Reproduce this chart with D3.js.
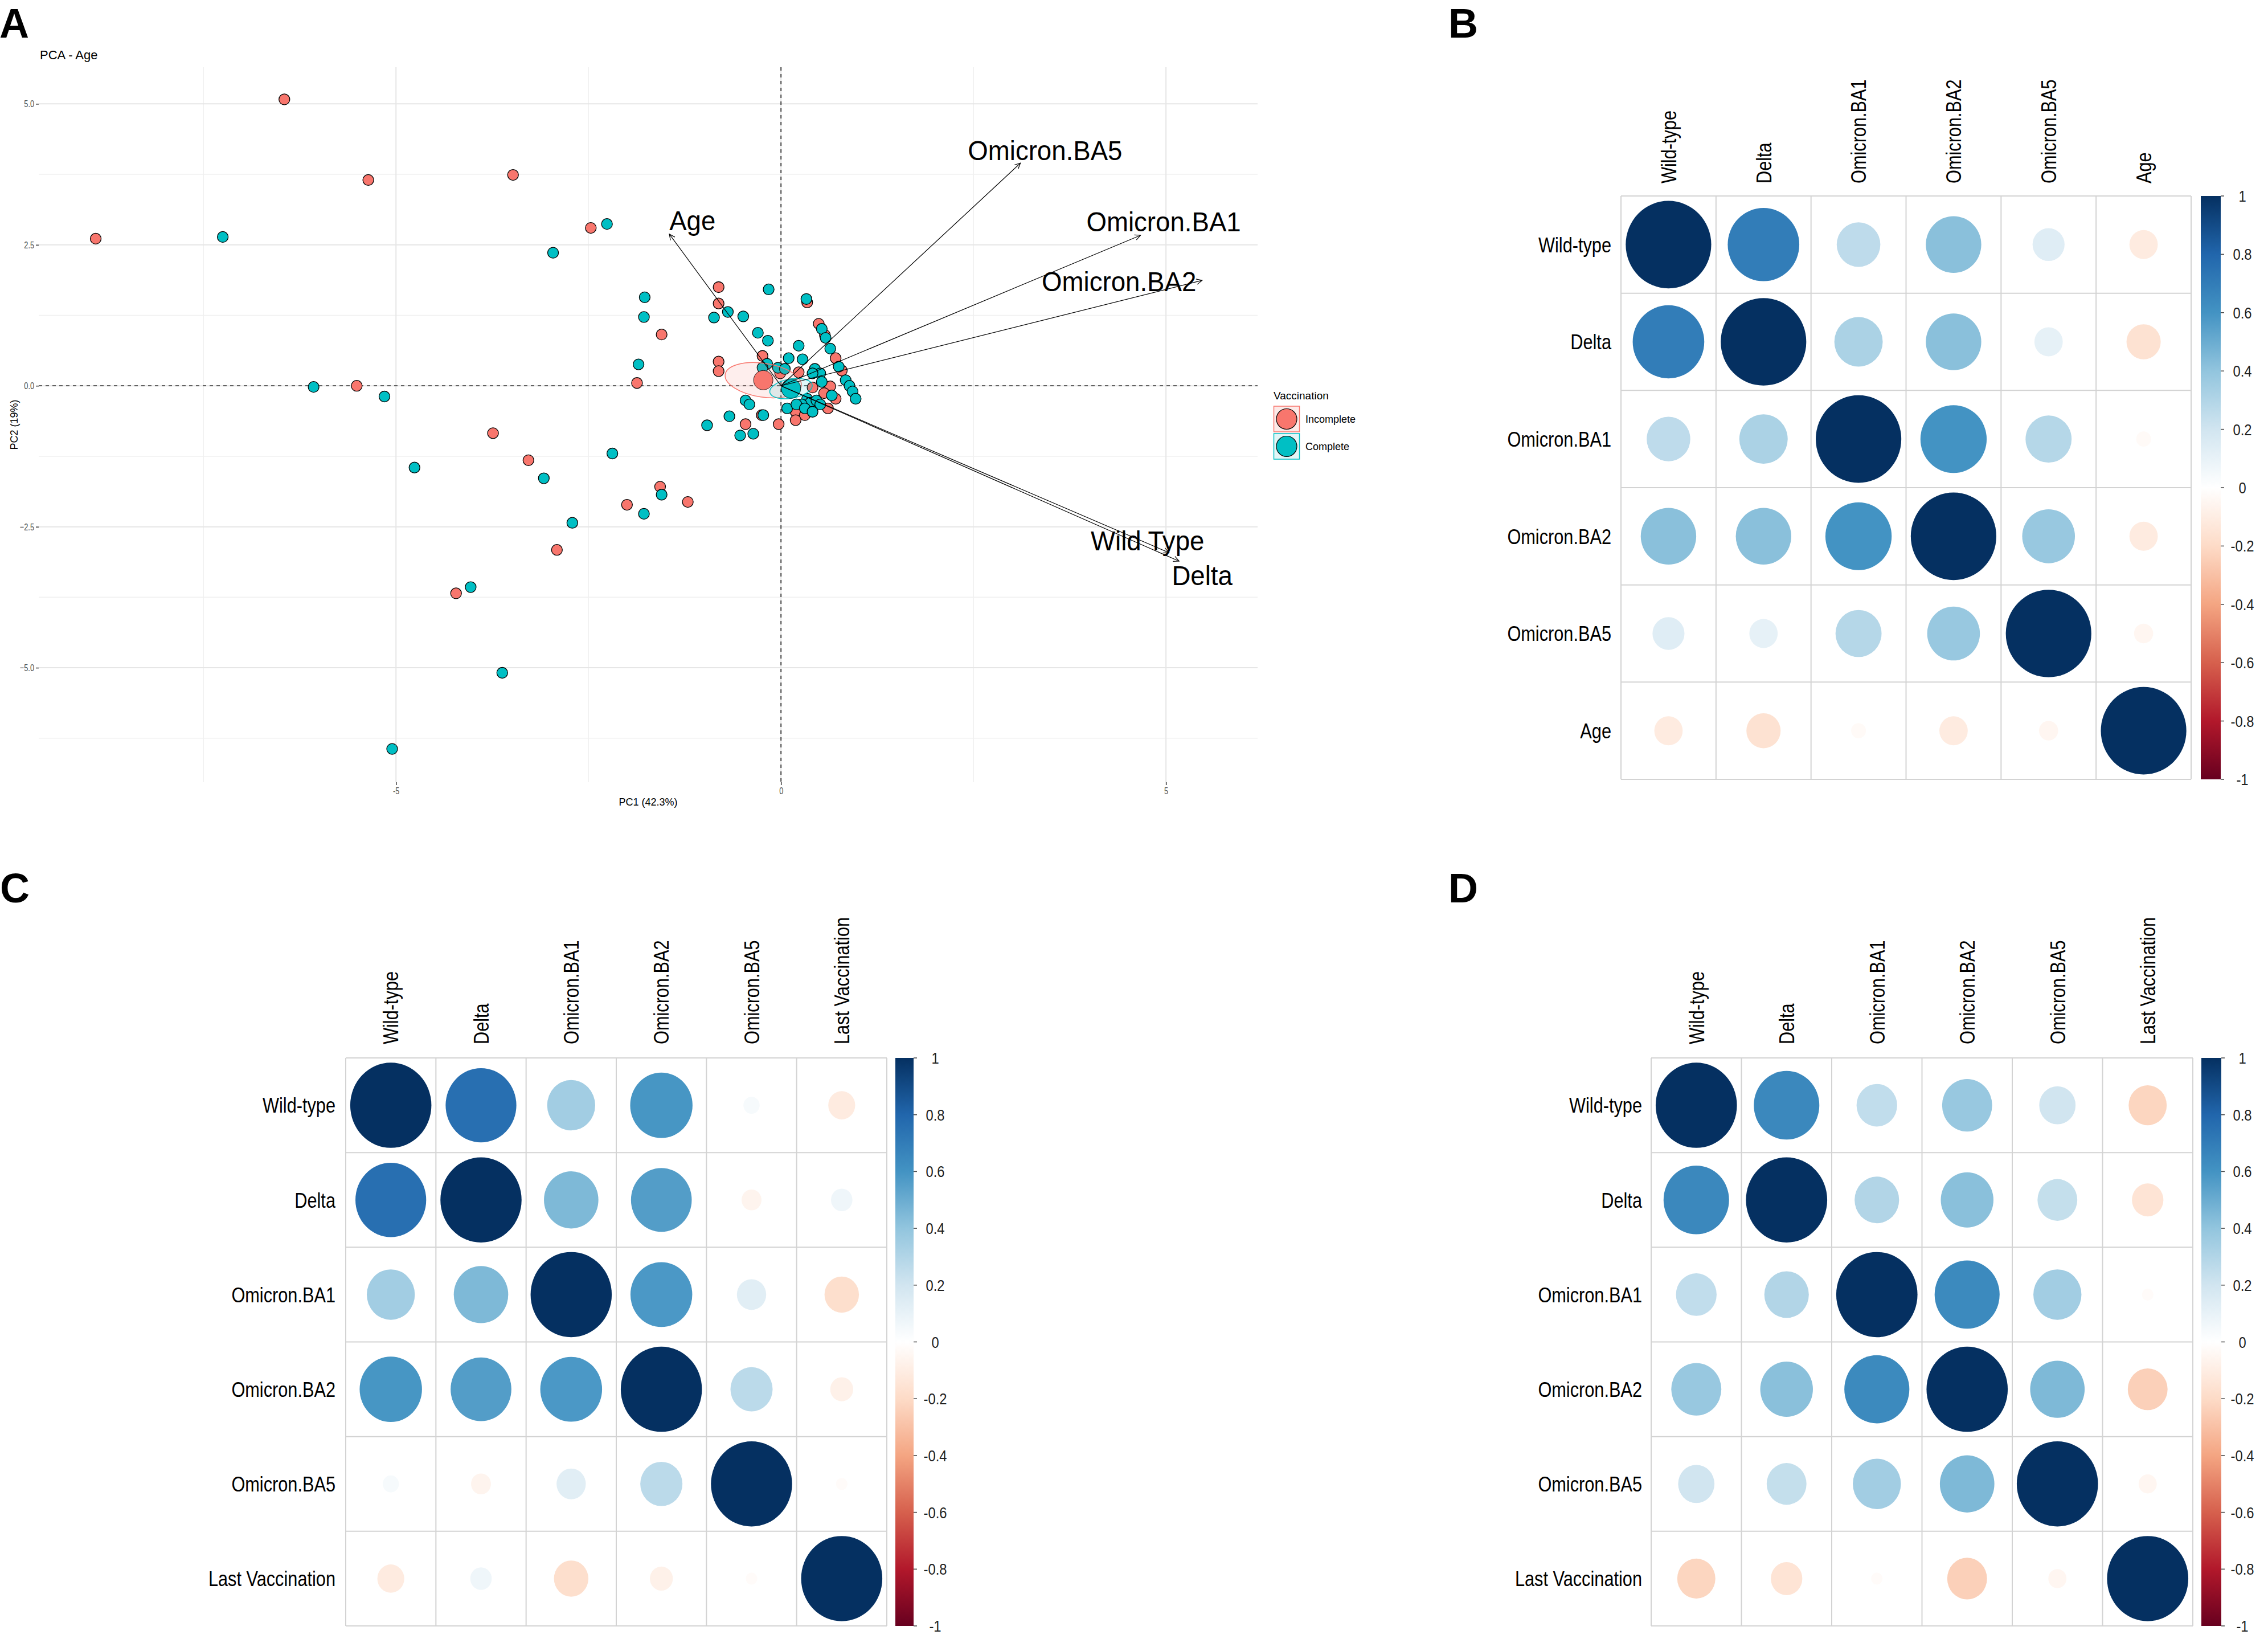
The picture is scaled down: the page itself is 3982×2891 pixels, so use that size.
<!DOCTYPE html>
<html>
<head>
<meta charset="utf-8">
<script src="https://cdn.jsdelivr.net/npm/d3@7"></script>
<style>
  body { margin: 0; background: #fff; }
  svg { display: block; font-family: "Liberation Sans", Arial, sans-serif; }
</style>
</head>
<body>
<svg id="fig" width="3982" height="2891"></svg>
<script>
// ---------------- DATA ----------------
// Panel A: PCA individuals (PC1, PC2)
const pcaIncomplete = [
  [-8.90,2.61],[-6.45,5.08],[-5.36,3.65],[-3.48,3.74],[-2.47,2.80],[-5.51,0.00],
  [-0.81,1.75],[-0.81,1.46],[-1.55,0.91],[-0.81,0.43],[-0.81,0.26],[-1.87,0.05],
  [-0.24,0.53],[-3.74,-0.84],[-3.28,-1.32],[-1.57,-1.79],[-2.00,-2.11],[-1.21,-2.06],
  [-2.91,-2.91],[-0.46,-0.68],[-0.25,-0.52],[-0.03,-0.68],[-0.01,0.22],[-4.22,-3.68],
  [0.34,1.48],[0.49,1.10],[0.23,0.24],[0.41,-0.03],[0.57,0.90],[0.71,0.49],
  [0.79,0.27],[0.64,-0.01],[0.56,-0.13],[0.71,-0.23],[0.61,-0.40],[0.19,-0.46],
  [0.31,-0.52],[0.19,-0.61]
];
const pcaComplete = [
  [-7.25,2.64],[-2.26,2.87],[-2.96,2.36],[-6.07,-0.02],[-5.15,-0.19],[-4.76,-1.45],
  [-3.08,-1.64],[-2.19,-1.20],[-1.55,-1.93],[-1.78,-2.27],[-2.71,-2.43],[-1.77,1.57],
  [-1.78,1.22],[-1.85,0.38],[-0.87,1.21],[-0.69,1.31],[-0.49,1.23],[-0.30,0.94],
  [-0.17,0.80],[-0.16,1.71],[-0.18,0.39],[-0.04,0.32],[0.10,0.49],[-0.46,-0.26],
  [-0.41,-0.33],[-0.67,-0.54],[-0.96,-0.70],[-0.53,-0.88],[-0.36,-0.85],[-0.23,-0.52],
  [0.08,-0.40],[-4.03,-3.57],[-3.62,-5.09],[-5.05,-6.44],[0.33,1.54],[0.23,0.71],
  [0.28,0.47],[0.05,0.30],[0.44,0.30],[0.51,0.22],[0.41,0.22],[-0.24,0.32],
  [0.53,1.01],[0.58,0.85],[0.64,0.66],[0.75,0.34],[0.84,0.10],[0.89,0.00],
  [0.93,-0.10],[0.97,-0.23],[0.66,-0.17],[0.34,-0.23],[0.38,-0.30],[0.46,-0.26],
  [0.51,-0.33],[0.27,-0.33],[0.20,-0.33],[0.31,-0.40],[0.41,-0.46],[0.53,0.07]
];
const groupNames = ["Incomplete", "Complete"];
const groupMeanX = [-0.23, 0.13];
const groupMeanY = [0.10, -0.05];
const ellipseRadiusX = [0.50, 0.28];   // PC1 units
const ellipseRadiusY = [0.30, 0.17];   // PC2 units
const ellipseAngle = [8.5, -10];       // degrees
// variable loadings (arrow tips) and their label anchors
const loadingNames = ["Wild Type", "Delta", "Omicron.BA1", "Omicron.BA2", "Omicron.BA5", "Age"];
const loadingX = [5.04, 5.17, 4.67, 5.47, 3.11, -1.45];
const loadingY = [-2.96, -3.11, 2.67, 1.87, 3.95, 2.69];
const loadingLabelX = [4.76, 5.47, 4.97, 4.39, 3.43, -1.15];
const loadingLabelY = [-2.74, -3.36, 2.91, 1.85, 4.18, 2.94];
const pcaXTicks = [-5, 0, 5];
const pcaXMinor = [-7.5, -2.5, 2.5];
const pcaYTicks = [-5, -2.5, 0, 2.5, 5];
const pcaYMinor = [-6.25, -3.75, -1.25, 1.25, 3.75];

// Panels B-D: correlation matrices
const corrVarsB = ["Wild-type", "Delta", "Omicron.BA1", "Omicron.BA2", "Omicron.BA5", "Age"];
const corrVarsCD = ["Wild-type", "Delta", "Omicron.BA1", "Omicron.BA2", "Omicron.BA5", "Last Vaccination"];
const corrB = [
  [1.00, 0.70, 0.26, 0.42, 0.14, -0.11],
  [0.70, 1.00, 0.32, 0.42, 0.11, -0.16],
  [0.26, 0.32, 1.00, 0.60, 0.29, -0.03],
  [0.42, 0.42, 0.60, 1.00, 0.38, -0.11],
  [0.14, 0.11, 0.29, 0.38, 1.00, -0.05],
  [-0.11, -0.16, -0.03, -0.11, -0.05, 1.00]
];
const corrC = [
  [1.00, 0.76, 0.35, 0.59, 0.04, -0.11],
  [0.76, 1.00, 0.45, 0.56, -0.06, 0.07],
  [0.35, 0.45, 1.00, 0.58, 0.13, -0.18],
  [0.59, 0.56, 0.58, 1.00, 0.27, -0.08],
  [0.04, -0.06, 0.13, 0.27, 1.00, -0.02],
  [-0.11, 0.07, -0.18, -0.08, -0.02, 1.00]
];
const corrD = [
  [1.00, 0.65, 0.25, 0.38, 0.20, -0.22],
  [0.65, 1.00, 0.30, 0.42, 0.24, -0.15],
  [0.25, 0.30, 1.00, 0.64, 0.35, -0.02],
  [0.38, 0.42, 0.64, 1.00, 0.45, -0.24],
  [0.20, 0.24, 0.35, 0.45, 1.00, -0.05],
  [-0.22, -0.15, -0.02, -0.24, -0.05, 1.00]
];
const colorbarTicks = [1, 0.8, 0.6, 0.4, 0.2, 0, -0.2, -0.4, -0.6, -0.8, -1];
const rdBuColors = ["#67001F", "#B2182B", "#D6604D", "#F4A582", "#FDDBC7", "#FFFFFF",
                    "#D1E5F0", "#92C5DE", "#4393C3", "#2166AC", "#053061"];
const groupColors = ["#F8766D", "#00BFC4"];
const groupKeyFill = ["#FDEAE8", "#E2F6F7"];

// ---------------- HELPERS ----------------
const svg = d3.select("#fig");
function narrow(sel, f) {
  sel.each(function () {
    const w = this.getComputedTextLength();
    if (w > 0) {
      this.setAttribute("textLength", (w * f).toFixed(1));
      this.setAttribute("lengthAdjust", "spacingAndGlyphs");
    }
  });
  return sel;
}
function fmtTick(v) {
  if (v === 0) return "0";
  return (v < 0 ? "-" : "") + String(Math.abs(v)).replace(/^0\./, "0.");
}

// ---------------- PANEL LETTERS ----------------
[["A", -1, 66], ["B", 2543, 66], ["C", 0, 1584], ["D", 2543, 1584]].forEach(([t, x, y]) => {
  svg.append("text").attr("x", x).attr("y", y).attr("font-size", 72)
    .attr("font-weight", 700).attr("fill", "#000").text(t);
});

// ---------------- PANEL A ----------------
const gA = svg.append("g");
const xA = d3.scaleLinear().domain([-9.64, 6.19]).range([68, 2208]);
const yA = d3.scaleLinear().domain([-7.03, 5.65]).range([1373, 118]);

// grid
gA.selectAll(".vminor").data(pcaXMinor).join("line")
  .attr("x1", d => xA(d)).attr("x2", d => xA(d)).attr("y1", yA.range()[1]).attr("y2", yA.range()[0])
  .attr("stroke", "#F0F0F0").attr("stroke-width", 1.5);
gA.selectAll(".hminor").data(pcaYMinor).join("line")
  .attr("y1", d => yA(d)).attr("y2", d => yA(d)).attr("x1", xA.range()[0]).attr("x2", xA.range()[1])
  .attr("stroke", "#F0F0F0").attr("stroke-width", 1.5);
gA.selectAll(".vmajor").data(pcaXTicks).join("line")
  .attr("x1", d => xA(d)).attr("x2", d => xA(d)).attr("y1", yA.range()[1]).attr("y2", yA.range()[0])
  .attr("stroke", "#E6E6E6").attr("stroke-width", 2);
gA.selectAll(".hmajor").data(pcaYTicks).join("line")
  .attr("y1", d => yA(d)).attr("y2", d => yA(d)).attr("x1", xA.range()[0]).attr("x2", xA.range()[1])
  .attr("stroke", "#E6E6E6").attr("stroke-width", 2);

// axes
const axX = gA.append("g").attr("transform", `translate(0,${yA.range()[0]})`)
  .call(d3.axisBottom(xA).tickValues(pcaXTicks).tickSize(5).tickPadding(4).tickFormat(d => fmtTick(d)));
const axY = gA.append("g").attr("transform", `translate(${xA.range()[0]},0)`)
  .call(d3.axisLeft(yA).tickValues(pcaYTicks).tickSize(5).tickPadding(3).tickFormat(d3.format(".1f")));
[axX, axY].forEach(ax => {
  ax.select(".domain").remove();
  ax.selectAll(".tick line").attr("stroke", "#333").attr("stroke-width", 1.5);
  ax.selectAll(".tick text").attr("font-size", 17).attr("fill", "#4D4D4D")
    .attr("font-family", "'Liberation Sans', Arial, sans-serif");
  narrow(ax.selectAll(".tick text"), 0.75);
});

// dashed zero lines
gA.append("line").attr("x1", xA(0)).attr("x2", xA(0)).attr("y1", yA.range()[1]).attr("y2", yA.range()[0])
  .attr("stroke", "#000").attr("stroke-width", 1.5).attr("stroke-dasharray", "6,6");
gA.append("line").attr("y1", yA(0)).attr("y2", yA(0)).attr("x1", xA.range()[0]).attr("x2", xA.range()[1])
  .attr("stroke", "#000").attr("stroke-width", 1.5).attr("stroke-dasharray", "6,6");

// points
const pcaPoints = pcaIncomplete.map(p => ({x: p[0], y: p[1], g: 0}))
  .concat(pcaComplete.map(p => ({x: p[0], y: p[1], g: 1})));
gA.append("g").selectAll("circle").data(pcaPoints).join("circle")
  .attr("cx", d => xA(d.x)).attr("cy", d => yA(d.y)).attr("r", 9.5)
  .attr("fill", d => groupColors[d.g]).attr("stroke", "#000").attr("stroke-width", 1.3);

// ellipses
const ellG = gA.append("g");
groupNames.forEach((n, i) => {
  const cx = xA(groupMeanX[i]), cy = yA(groupMeanY[i]);
  ellG.append("ellipse")
    .attr("cx", cx).attr("cy", cy)
    .attr("rx", xA(ellipseRadiusX[i]) - xA(0))
    .attr("ry", yA(0) - yA(ellipseRadiusY[i]))
    .attr("transform", `rotate(${ellipseAngle[i]},${cx},${cy})`)
    .attr("fill", groupColors[i]).attr("fill-opacity", 0.12)
    .attr("stroke", groupColors[i]).attr("stroke-width", 1.5);
});
// group means
gA.append("g").selectAll("circle").data(groupNames).join("circle")
  .attr("cx", (d, i) => xA(groupMeanX[i])).attr("cy", (d, i) => yA(groupMeanY[i])).attr("r", 17)
  .attr("fill", (d, i) => groupColors[i]).attr("stroke", "#000").attr("stroke-width", 0.8);

// loading arrows
const arrG = gA.append("g");
loadingNames.forEach((n, i) => {
  const x0 = xA(0), y0 = yA(0), x1 = xA(loadingX[i]), y1 = yA(loadingY[i]);
  const ang = Math.atan2(y1 - y0, x1 - x0);
  const L = 11, a = Math.PI / 7;
  arrG.append("line").attr("x1", x0).attr("y1", y0).attr("x2", x1).attr("y2", y1)
    .attr("stroke", "#000").attr("stroke-width", 1.2);
  const p = d3.path();
  p.moveTo(x1 - L * Math.cos(ang - a), y1 - L * Math.sin(ang - a));
  p.lineTo(x1, y1);
  p.lineTo(x1 - L * Math.cos(ang + a), y1 - L * Math.sin(ang + a));
  arrG.append("path").attr("d", p.toString()).attr("fill", "none")
    .attr("stroke", "#000").attr("stroke-width", 1.2);
  arrG.append("text").attr("x", xA(loadingLabelX[i])).attr("y", yA(loadingLabelY[i]))
    .attr("dy", "0.36em").attr("text-anchor", "middle").attr("font-size", 48)
    .attr("fill", "#000").text(n);
});
narrow(arrG.selectAll("text"), 0.95);

// titles
gA.append("text").attr("x", 70).attr("y", 104).attr("font-size", 22).attr("fill", "#000").text("PCA - Age");
gA.append("text").attr("x", (xA.range()[0] + xA.range()[1]) / 2).attr("y", 1414)
  .attr("text-anchor", "middle").attr("font-size", 18).attr("fill", "#000").text("PC1 (42.3%)");
gA.append("text").attr("transform", `translate(31,${(yA.range()[0] + yA.range()[1]) / 2}) rotate(-90)`)
  .attr("text-anchor", "middle").attr("font-size", 18).attr("fill", "#000").text("PC2 (19%)");

// legend
const lg = gA.append("g").attr("transform", "translate(2236,0)");
lg.append("text").attr("x", 0).attr("y", 701).attr("font-size", 19).attr("fill", "#000").text("Vaccination");
groupNames.forEach((n, i) => {
  const top = 713 + i * 48;
  lg.append("rect").attr("x", 0.5).attr("y", top).attr("width", 45).attr("height", 45)
    .attr("fill", groupKeyFill[i]).attr("stroke", groupColors[i]).attr("stroke-width", 1.5);
  lg.append("circle").attr("cx", 23).attr("cy", top + 22.5).attr("r", 18)
    .attr("fill", groupColors[i]).attr("stroke", "#000").attr("stroke-width", 1.2);
  lg.append("text").attr("x", 56).attr("y", top + 22.5).attr("dy", "0.36em")
    .attr("font-size", 18).attr("fill", "#000").text(n);
});

// ---------------- CORRPLOTS ----------------
const corrColor = d3.scaleLinear()
  .domain(d3.range(11).map(i => -1 + i * 0.2))
  .range(rdBuColors).interpolate(d3.interpolateRgb).clamp(true);

const defs = svg.append("defs");
const grad = defs.append("linearGradient").attr("id", "rdbu").attr("x1", 0).attr("y1", 1).attr("x2", 0).attr("y2", 0);
rdBuColors.forEach((c, i) => grad.append("stop").attr("offset", i / 10).attr("stop-color", c));

function drawCorr(cfg) {
  const g = svg.append("g");
  const vars = cfg.vars, M = cfg.matrix;
  const xs = d3.scaleBand().domain(vars).range([cfg.x0, cfg.x1]);
  const ys = d3.scaleBand().domain(vars).range([cfg.y0, cfg.y1]);
  const cells = [];
  vars.forEach((r, i) => vars.forEach((c, j) => cells.push({r, c, v: M[i][j]})));
  // circles
  g.append("g").selectAll("ellipse").data(cells).join("ellipse")
    .attr("cx", d => xs(d.c) + xs.bandwidth() / 2)
    .attr("cy", d => ys(d.r) + ys.bandwidth() / 2)
    .attr("rx", d => 0.45 * Math.sqrt(Math.abs(d.v)) * xs.bandwidth())
    .attr("ry", d => 0.45 * Math.sqrt(Math.abs(d.v)) * ys.bandwidth())
    .attr("fill", d => corrColor(d.v));
  // grid
  const vb = vars.map(v => xs(v)).concat([cfg.x1]);
  const hb = vars.map(v => ys(v)).concat([cfg.y1]);
  g.append("g").selectAll("line").data(vb).join("line")
    .attr("x1", d => d).attr("x2", d => d).attr("y1", cfg.y0).attr("y2", cfg.y1)
    .attr("stroke", "#D3D3D3").attr("stroke-width", 2);
  g.append("g").selectAll("line").data(hb).join("line")
    .attr("y1", d => d).attr("y2", d => d).attr("x1", cfg.x0).attr("x2", cfg.x1)
    .attr("stroke", "#D3D3D3").attr("stroke-width", 2);
  // row labels
  const rl = g.append("g").selectAll("text").data(vars).join("text")
    .attr("x", cfg.rowLabelX).attr("y", d => ys(d) + ys.bandwidth() / 2).attr("dy", "0.36em")
    .attr("text-anchor", "end").attr("font-size", 37).attr("fill", "#000").text(d => d);
  narrow(rl, 0.83);
  // column labels
  const cl = g.append("g").selectAll("text").data(vars).join("text")
    .attr("transform", d => `translate(${xs(d) + xs.bandwidth() / 2},${cfg.colLabelY}) rotate(-90)`)
    .attr("dy", "0.36em").attr("text-anchor", "start").attr("font-size", 37).attr("fill", "#000").text(d => d);
  narrow(cl, 0.83);
  // colorbar
  const yb = d3.scaleLinear().domain([-1, 1]).range([cfg.y1, cfg.y0]);
  g.append("rect").attr("x", cfg.bx0).attr("y", cfg.y0).attr("width", cfg.bx1 - cfg.bx0)
    .attr("height", cfg.y1 - cfg.y0).attr("fill", "url(#rdbu)");
  g.append("g").selectAll("line").data(colorbarTicks).join("line")
    .attr("x1", cfg.bx1).attr("x2", cfg.bx1 + 6).attr("y1", d => yb(d)).attr("y2", d => yb(d))
    .attr("stroke", "#444").attr("stroke-width", 1.5);
  const bl = g.append("g").selectAll("text").data(colorbarTicks).join("text")
    .attr("x", cfg.barLabelX).attr("y", d => yb(d)).attr("dy", "0.36em")
    .attr("text-anchor", "middle").attr("font-size", 28).attr("fill", "#222").text(d => fmtTick(d));
  narrow(bl, 0.85);
}

drawCorr({vars: corrVarsB, matrix: corrB, x0: 2846, x1: 3847, y0: 344, y1: 1368,
          rowLabelX: 2829, colLabelY: 322, bx0: 3864, bx1: 3899, barLabelX: 3937});
drawCorr({vars: corrVarsCD, matrix: corrC, x0: 607, x1: 1557, y0: 1857, y1: 2854,
          rowLabelX: 589, colLabelY: 1833, bx0: 1572, bx1: 1604, barLabelX: 1642});
drawCorr({vars: corrVarsCD, matrix: corrD, x0: 2899, x1: 3850, y0: 1857, y1: 2854,
          rowLabelX: 2883, colLabelY: 1833, bx0: 3865, bx1: 3900, barLabelX: 3937});
</script>
</body>
</html>
